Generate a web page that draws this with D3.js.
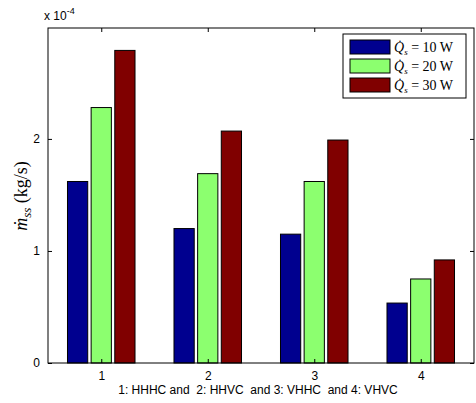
<html>
<head>
<meta charset="utf-8">
<title>Mass flow bars</title>
<style>
  body { margin: 0; background: #fff; }
  .tick text { font: 12px "Liberation Sans", Arial, sans-serif; fill: #000; }
</style>
<script src="https://d3js.org/d3.v7.min.js"></script>
</head>
<body>
<svg width="476" height="403"></svg>
<script>
// values in units of 1e-4 kg/s
var groups = [1, 2, 3, 4];
var seriesNames = ["10", "20", "30"];
var q10 = [1.62, 1.20, 1.15, 0.535];
var q20 = [2.28, 1.69, 1.62, 0.75];
var q30 = [2.79, 2.07, 1.99, 0.92];
var yTicks = [0, 1, 2];
var colors = ["#00008f", "#8cff6f", "#800000"];

var svg = d3.select("svg"),
    margin = {top: 28, right: 2, bottom: 40, left: 48},
    width = +svg.attr("width") - margin.left - margin.right,
    height = +svg.attr("height") - margin.top - margin.bottom,
    g = svg.append("g").attr("transform", `translate(${margin.left},${margin.top})`);

var x = d3.scaleLinear().domain([0.5, 4.5]).range([0, width]),
    y = d3.scaleLinear().domain([0, 2.99]).range([height, 0]);

var series = [q10, q20, q30];
var offsets = [-0.222, 0, 0.222], barW = 0.19;

series.forEach(function(vals, s) {
  g.append("g").selectAll("rect")
    .data(vals)
    .enter().append("rect")
    .attr("x", (d, i) => x(groups[i] + offsets[s] - barW / 2))
    .attr("width", x(barW) - x(0))
    .attr("y", d => y(d))
    .attr("height", d => y(0) - y(d))
    .attr("fill", colors[s])
    .attr("stroke", "#000")
    .attr("stroke-width", 1);
});

// box
g.append("rect").attr("width", width).attr("height", height)
  .attr("fill", "none").attr("stroke", "#000").attr("stroke-width", 1);

var fmt = d3.format("d");
// axes with inward ticks, mirrored
g.append("g").attr("transform", `translate(0,${height})`)
  .call(d3.axisBottom(x).tickValues(groups).tickFormat(fmt).tickSizeInner(-4).tickSizeOuter(0).tickPadding(8))
  .call(a => a.select(".domain").remove());
g.append("g")
  .call(d3.axisTop(x).tickValues(groups).tickSizeInner(-4).tickSizeOuter(0).tickFormat(""))
  .call(a => a.select(".domain").remove());
g.append("g")
  .call(d3.axisLeft(y).tickValues(yTicks).tickFormat(fmt).tickSizeInner(-4).tickSizeOuter(0).tickPadding(8))
  .call(a => a.select(".domain").remove());
g.append("g").attr("transform", `translate(${width},0)`)
  .call(d3.axisRight(y).tickValues(yTicks).tickSizeInner(-4).tickSizeOuter(0).tickFormat(""))
  .call(a => a.select(".domain").remove());

// exponent label
var ex = svg.append("text").attr("x", 44).attr("y", 20)
  .style("font", "12px 'Liberation Sans', Arial, sans-serif");
ex.append("tspan").text("x 10");
ex.append("tspan").attr("dy", -6).style("font-size", "9px").text("-4");

// x label
svg.append("text").attr("x", 258).attr("y", 394).attr("text-anchor", "middle")
  .style("font", "12px 'Liberation Sans', Arial, sans-serif")
  .attr("xml:space", "preserve")
  .text("1: HHHC and  2: HHVC  and 3: VHHC  and 4: VHVC");

// y label
var yl = svg.append("text").attr("transform", "translate(27,196) rotate(-90)")
  .attr("text-anchor", "middle")
  .style("font", "18px 'Liberation Serif', 'DejaVu Serif', serif");
yl.append("tspan").style("font-style", "italic").text("m\u0307");
yl.append("tspan").style("font-style", "italic").style("font-size", "13px").attr("dy", 4).text("ss");
yl.append("tspan").attr("dy", -4).text(" (kg/s)");

// legend
var lg = g.append("g").attr("transform", `translate(${x(4.5) - 131},6)`);
lg.append("rect").attr("width", 123).attr("height", 64)
  .attr("fill", "#fff").attr("stroke", "#000");
var items = lg.selectAll("g.item").data(seriesNames).enter().append("g")
  .attr("transform", (d, i) => `translate(7,${6 + i * 19})`);
items.append("rect").attr("width", 40).attr("height", 14)
  .attr("fill", (d, i) => colors[i]).attr("stroke", "#000");
var lt = items.append("text").attr("x", 44).attr("y", 12)
  .style("font", "14px 'Liberation Serif', 'DejaVu Serif', serif");
lt.append("tspan").style("font-style", "italic").text("Q\u0307");
lt.append("tspan").style("font-style", "italic").style("font-size", "9px").attr("dy", 3).text("s");
lt.append("tspan").attr("dy", -3).text(d => " = " + d + " W");
</script>
</body>
</html>
